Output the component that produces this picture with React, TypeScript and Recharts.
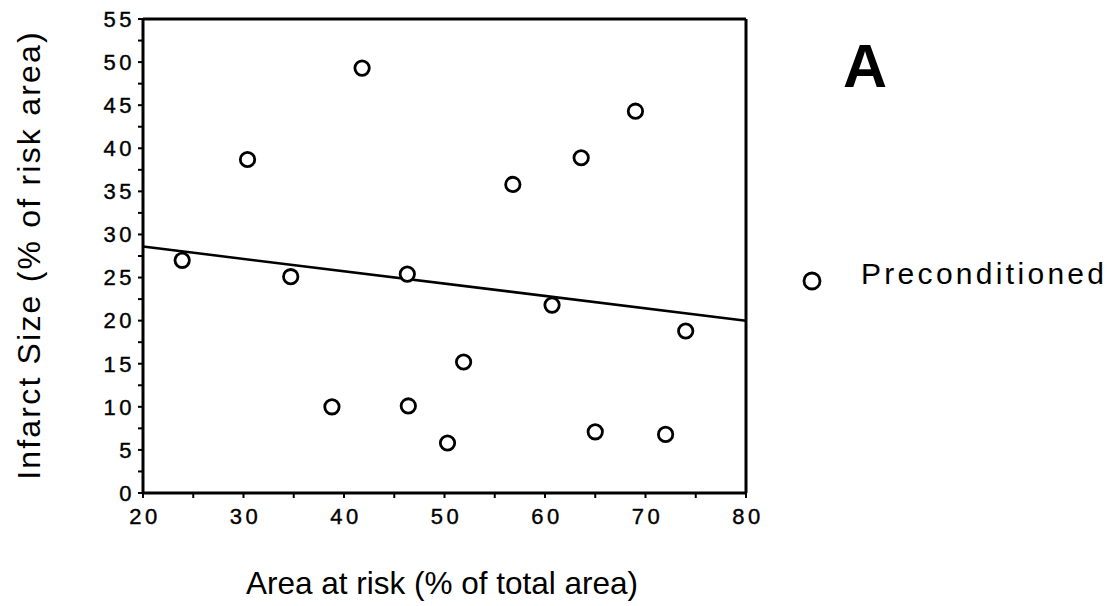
import React from 'react';
import {
  ScatterChart,
  Scatter,
  XAxis,
  YAxis,
  ReferenceLine,
  Customized,
} from 'recharts';

// Area at risk (% of total area)
const areaAtRisk = [23.9, 30.4, 34.7, 38.8, 41.8, 46.3, 46.4, 50.3, 51.9, 56.8, 60.7, 63.6, 65.0, 69.0, 72.0, 74.0];
// Infarct size (% of risk area)
const infarctSize = [27.0, 38.7, 25.1, 10.0, 49.3, 25.4, 10.1, 5.8, 15.2, 35.8, 21.8, 38.9, 7.1, 44.3, 6.8, 18.8];

// regression line end points
const fitX = [20, 80];
const fitY = [28.6, 20.0];

const xTicks = [20, 25, 30, 35, 40, 45, 50, 55, 60, 65, 70, 75, 80];
const yTicks = [0, 2.5, 5, 7.5, 10, 12.5, 15, 17.5, 20, 22.5, 25, 27.5, 30, 32.5, 35, 37.5, 40, 42.5, 45, 47.5, 50, 52.5, 55];

const seriesName = 'Preconditioned';
const xTitle = 'Area at risk (% of total area)';
const yTitle = 'Infarct Size (% of risk area)';
const panelLabel = 'A';

const points = areaAtRisk.map((x, i) => ({ x, y: infarctSize[i] }));

const FONT = '"Liberation Sans", Arial, Helvetica, sans-serif';

const tickStyle = {
  fill: '#000',
  stroke: '#000',
  strokeWidth: 0.4,
  fontSize: 22,
  fontFamily: FONT,
  letterSpacing: 3.5,
};

const RingShape = (props: any) => {
  const { cx, cy } = props;
  if (cx == null || cy == null) return null;
  return <circle cx={cx} cy={cy} r={7.2} fill="#fff" stroke="#000" strokeWidth={2.8} />;
};

const Titles = () => (
  <g fontFamily={FONT} fill="#000">
    <text x={442} y={594} fontSize={31.5} textAnchor="middle">
      {xTitle}
    </text>
    <text
      x={0}
      y={0}
      fontSize={32}
      textAnchor="middle"
      letterSpacing={2.2}
      transform="translate(40,255) rotate(-90)"
    >
      {yTitle}
    </text>
    <text x={865} y={87} fontSize={61} fontWeight="bold" textAnchor="middle">
      {panelLabel}
    </text>
    <circle cx={812} cy={281} r={8} fill="#fff" stroke="#000" strokeWidth={2.8} />
    <text x={861} y={284} fontSize={30} letterSpacing={3.3}>
      {seriesName}
    </text>
  </g>
);

export default function App() {
  return (
    <div style={{ position: 'absolute', left: 0, top: 0, width: 1118, height: 606, background: '#fff' }}>
      <ScatterChart
        width={1118}
        height={606}
        margin={{ top: 11, right: 362, bottom: 73, left: 83 }}
      >
        <XAxis
          xAxisId="bottom"
          type="number"
          dataKey="x"
          domain={[20, 80]}
          ticks={xTicks}
          interval={0}
          height={40}
          tickSize={5}
          tickMargin={10}
          axisLine={{ stroke: '#000', strokeWidth: 3 }}
          tickLine={{ stroke: '#000', strokeWidth: 2 }}
          tick={{ ...tickStyle, dx: 2 }}
          tickFormatter={(v: number) => (v % 10 === 0 ? String(v) : '')}
          allowDataOverflow
        />
        <XAxis
          xAxisId="top"
          orientation="top"
          type="number"
          dataKey="x"
          domain={[20, 80]}
          ticks={xTicks}
          interval={0}
          height={8}
          tickSize={4}
          axisLine={{ stroke: '#000', strokeWidth: 3 }}
          tickLine={{ stroke: '#000', strokeWidth: 2 }}
          tick={false}
          allowDataOverflow
        />
        <YAxis
          yAxisId="left"
          type="number"
          dataKey="y"
          domain={[0, 55]}
          ticks={yTicks}
          interval={0}
          width={60}
          tickSize={5}
          tickMargin={3}
          axisLine={{ stroke: '#000', strokeWidth: 3 }}
          tickLine={{ stroke: '#000', strokeWidth: 2 }}
          tick={tickStyle}
          tickFormatter={(v: number) => (v % 5 === 0 ? String(v) : '')}
          allowDataOverflow
        />
        <YAxis
          yAxisId="right"
          orientation="right"
          type="number"
          dataKey="y"
          domain={[0, 55]}
          ticks={yTicks}
          interval={0}
          width={10}
          tickSize={4}
          axisLine={{ stroke: '#000', strokeWidth: 3 }}
          tickLine={{ stroke: '#000', strokeWidth: 2 }}
          tick={false}
          allowDataOverflow
        />
        <ReferenceLine
          xAxisId="bottom"
          yAxisId="left"
          segment={[
            { x: fitX[0], y: fitY[0] },
            { x: fitX[1], y: fitY[1] },
          ]}
          stroke="#000"
          strokeWidth={2.5}
          ifOverflow="visible"
        />
        <Scatter
          name={seriesName}
          data={points}
          xAxisId="bottom"
          yAxisId="left"
          shape={RingShape}
          isAnimationActive={false}
        />
        <Customized component={Titles} />
      </ScatterChart>
    </div>
  );
}
